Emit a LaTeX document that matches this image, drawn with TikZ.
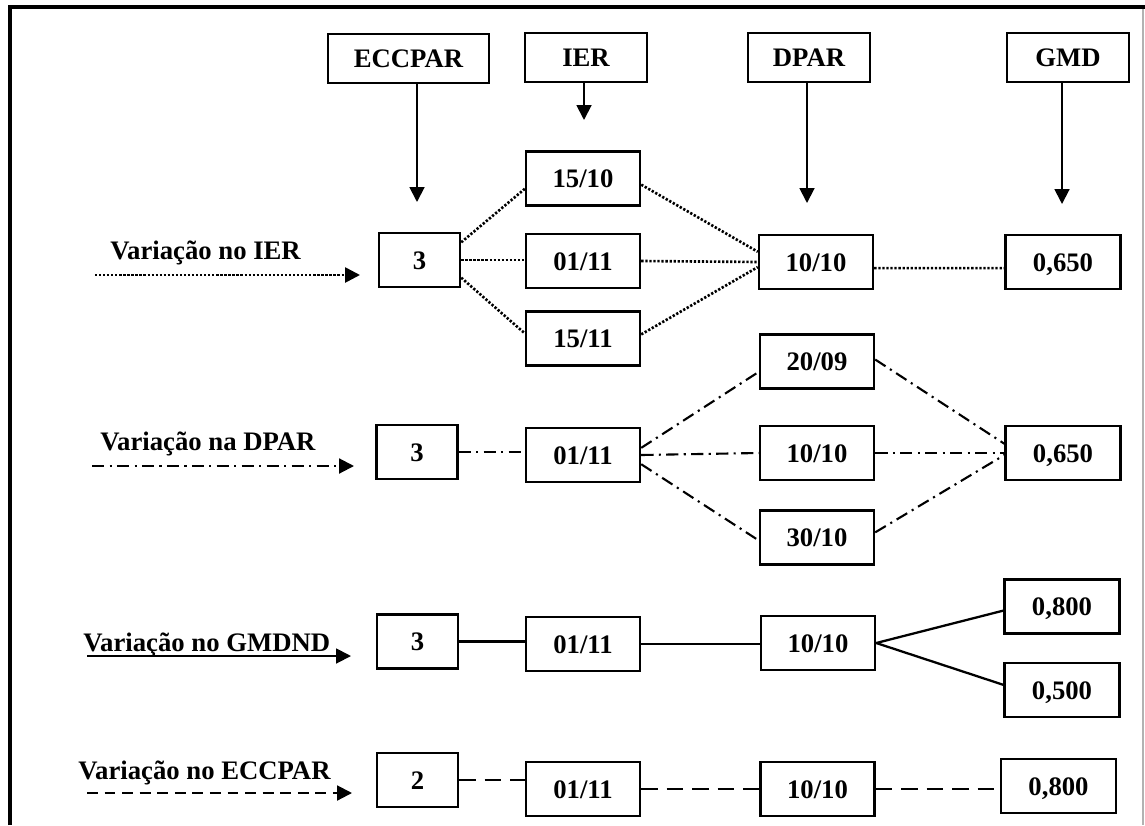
\documentclass[tikz,border=0pt]{standalone}
\usepackage{fontspec}
\setmainfont{Liberation Serif}
\usetikzlibrary{arrows.meta,positioning}
\tikzstyle{frm} = [line width=2.3pt]
\tikzstyle{hdr} = [draw, line width=1.4pt, minimum width=2.44cm, minimum height=0.98cm, inner sep=0pt, font=\bfseries\fontsize{15.2}{18}\selectfont, text height=10.4pt, text depth=0pt]
\tikzstyle{box} = [hdr, minimum height=1.08cm, minimum width=2.28cm]
\tikzstyle{sbox} = [box, minimum width=1.62cm]
\tikzstyle{vbox} = [box, minimum width=2.3cm]
\tikzstyle{lbl} = [anchor=base west, inner sep=0pt, font=\bfseries\fontsize{15.2}{18}\selectfont]
\tikzstyle{arrow} = [line width=1.1pt, -{Triangle[length=8.5pt,width=8.5pt]}]
\tikzstyle{dotline} = [line width=1.5pt, dash pattern=on 1.3pt off 1pt]
\tikzstyle{dashdotline} = [line width=1.2pt, dash pattern=on 7pt off 3pt on 1.2pt off 3pt]
\tikzstyle{dashline} = [line width=1.2pt, dash pattern=on 9.5pt off 5pt]
\tikzstyle{arrdash} = [line width=1.2pt, dash pattern=on 6.2pt off 3.8pt]
\tikzstyle{solidline} = [line width=1.3pt]

\begin{document}
\begin{tikzpicture}[x=0.02cm, y=-0.02cm]
	\useasboundingbox (0,0) rectangle (1145,825);
	\draw[frm] (10,825) -- (10,7) -- (1145,7);
	\draw[gray!60, line width=0.6pt] (1143,9) -- (1143,825);

	\node[hdr, minimum width=3.22cm] (eccpar) at (408.5,58.5) {ECCPAR};
	\node[hdr] (ier) at (586,57.5) {IER};
	\node[hdr] (dpar) at (809,57.5) {DPAR};
	\node[hdr] (gmd) at (1068,57.5) {GMD};
	\coordinate (te) at (417,202);
	\coordinate (ti) at (584,120);
	\coordinate (td) at (807,203);
	\coordinate (tg) at (1062,204);
	\draw[arrow] (eccpar.south -| te) -- (te);
	\draw[arrow] (ier.south -| ti) -- (ti);
	\draw[arrow] (dpar.south -| td) -- (td);
	\draw[arrow] (gmd.south -| tg) -- (tg);

	\node[sbox] (a1) at (419.5,260) {3};
	\node[box] (b1) at (583,261) {01/11};
	\node[box, above=0.52cm of b1] (b1u) {15/10};
	\node[box, below=0.42cm of b1] (b1l) {15/11};
	\node[box] (c1) at (816,262) {10/10};
	\node[vbox] (d1) at (1063,262) {0,650};
	\draw[dotline] (a1.23) -- (b1u.190);
	\draw[dotline] (a1.east) -- (a1.east -| b1.west);
	\draw[dotline] (a1.-23) -- (b1l.175);
	\draw[dotline] (b1u.354) -- (c1.170);
	\draw[dotline] (b1.east) -- (c1.west);
	\draw[dotline] (b1l.4) -- (c1.185);
	\draw[dotline] (c1.-6) -- (d1.186);
	\node[lbl] (l1) at (110,259) {Variação no IER};
	\coordinate (s1) at (95,275);
	\coordinate (e1) at (360,275);
	\draw[arrow, dotline] (s1) -- (e1);

	\node[sbox] (a2) at (417,452) {3};
	\node[box] (b2) at (583,455) {01/11};
	\node[box] (c2) at (817,453) {10/10};
	\node[box, above=0.7cm of c2] (c2u) {20/09};
	\node[box, below=0.56cm of c2] (c2l) {30/10};
	\node[vbox] (d2) at (1063,453) {0,650};
	\draw[dashdotline] (a2.east) -- (a2.east -| b2.west);
	\draw[dashdotline] (b2.7) -- (c2u.190);
	\draw[dashdotline] (b2.east) -- (c2.west);
	\draw[dashdotline] (b2.-9) -- (c2l.183);
	\draw[dashdotline] (c2u.2) -- (d2.171);
	\draw[dashdotline] (c2.east) -- (d2.west);
	\draw[dashdotline] (c2l.5) -- (d2.182);
	\node[lbl] (l2) at (100,450) {Variação na DPAR};
	\coordinate (s2) at (92,466);
	\coordinate (e2) at (354,466);
	\draw[arrow, dashdotline] (s2) -- (e2);

	\node[sbox] (a3) at (417.5,641.5) {3};
	\node[box] (b3) at (583,644) {01/11};
	\node[box] (c3) at (818,643) {10/10};
	\node[vbox] (d3u) at (1062,606.5) {0,800};
	\node[vbox, below=0.54cm of d3u] (d3l) {0,500};
	\draw[solidline] (a3.east) -- (a3.east -| b3.west);
	\draw[solidline] (b3.east) -- (b3.east -| c3.west);
	\draw[solidline] (c3.east) -- (d3u.184);
	\draw[solidline] (c3.east) -- (d3l.175);
	\node[lbl] (l3) at (83,651) {Variação no GMDND};
	\coordinate (s3) at (87,656);
	\coordinate (e3) at (351,656);
	\draw[arrow] (s3) -- (e3);

	\node[sbox] (a4) at (417.5,780) {2};
	\node[box] (b4) at (583,789) {01/11};
	\node[box] (c4) at (817.5,789) {10/10};
	\node[vbox] (d4) at (1058.5,786) {0,800};
	\draw[dashline] (a4.east) -- (a4.east -| b4.west);
	\draw[dashline] (b4.east) -- (c4.west);
	\draw[dashline] (c4.east) -- (c4.east -| d4.west);
	\node[lbl] (l4) at (78,779) {Variação no ECCPAR};
	\coordinate (s4) at (87,793);
	\coordinate (e4) at (352,793);
	\draw[arrow, arrdash] (s4) -- (e4);
\end{tikzpicture}
\end{document}
